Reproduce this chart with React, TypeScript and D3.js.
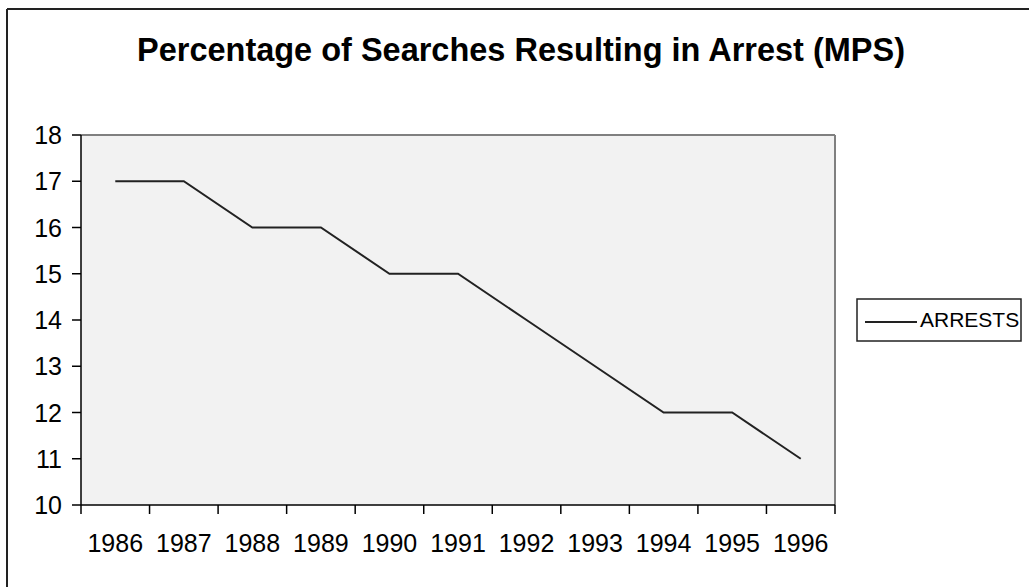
import React from "react";
import * as d3 from "d3";

const years = ["1986", "1987", "1988", "1989", "1990", "1991", "1992", "1993", "1994", "1995", "1996"];
const arrests = [17, 17, 16, 16, 15, 15, 14, 13, 12, 12, 11];
const yTicks = [10, 11, 12, 13, 14, 15, 16, 17, 18];
const seriesName = "ARRESTS";
const title = "Percentage of Searches Resulting in Arrest (MPS)";

export default function App() {
  const W = 1029, H = 587;
  const left = 81, right = 835, top = 135, bottom = 505;
  const x = d3.scaleBand<string>().domain(years).range([left, right]).padding(0);
  const y = d3.scaleLinear().domain([10, 18]).range([bottom, top]);
  const line = d3
    .line<number>()
    .x((_, i) => (x(years[i]) as number) + x.bandwidth() / 2)
    .y((d) => y(d));
  const font = "Arial, 'Liberation Sans', Helvetica, sans-serif";
  const boundaries = years.map((yr) => x(yr) as number).concat([right]);

  return (
    <svg
      width={W}
      height={H}
      style={{ position: "absolute", left: 0, top: 0, background: "#fff" }}
      fontFamily={font}
    >
      <rect x={0} y={0} width={W} height={H} fill="#fff" />
      {/* outer frame (top & left visible) */}
      <line x1={7} y1={9} x2={W + 5} y2={9} stroke="#222" strokeWidth={2} />
      <line x1={7} y1={9} x2={7} y2={H + 5} stroke="#222" strokeWidth={2} />

      <text
        x={137}
        y={61}
        fontSize={33}
        fontWeight="bold"
        fill="#000"
        textLength={768}
        lengthAdjust="spacingAndGlyphs"
      >
        {title}
      </text>

      {/* plot area */}
      <rect x={left} y={top} width={right - left} height={bottom - top} fill="#f2f2f2" />
      <line x1={left} y1={top} x2={right} y2={top} stroke="#808080" strokeWidth={2} />
      <line x1={right} y1={top} x2={right} y2={bottom} stroke="#808080" strokeWidth={2} />

      {/* y axis */}
      <line x1={left} y1={top} x2={left} y2={bottom} stroke="#000" strokeWidth={1.5} />
      {yTicks.map((t) => (
        <g key={t}>
          <line x1={left - 9} y1={y(t)} x2={left} y2={y(t)} stroke="#000" strokeWidth={1.5} />
          <text x={62} y={y(t)} dy="0.36em" textAnchor="end" fontSize={25} fill="#000">
            {t}
          </text>
        </g>
      ))}

      {/* x axis */}
      <line x1={left} y1={bottom} x2={right} y2={bottom} stroke="#000" strokeWidth={1.5} />
      {boundaries.map((bx, i) => (
        <line key={i} x1={bx} y1={bottom} x2={bx} y2={bottom + 9} stroke="#000" strokeWidth={1.5} />
      ))}
      {years.map((yr) => (
        <text
          key={yr}
          x={(x(yr) as number) + x.bandwidth() / 2}
          y={552}
          textAnchor="middle"
          fontSize={25}
          fill="#000"
        >
          {yr}
        </text>
      ))}

      {/* series */}
      <path d={line(arrests) || ""} fill="none" stroke="#222" strokeWidth={2} />

      {/* legend */}
      <rect x={857} y={299} width={164} height={42} fill="#fff" stroke="#222" strokeWidth={1.5} />
      <line x1={865} y1={322} x2={917} y2={322} stroke="#222" strokeWidth={2} />
      <text x={920} y={327} fontSize={21} fill="#000">
        {seriesName}
      </text>
    </svg>
  );
}
